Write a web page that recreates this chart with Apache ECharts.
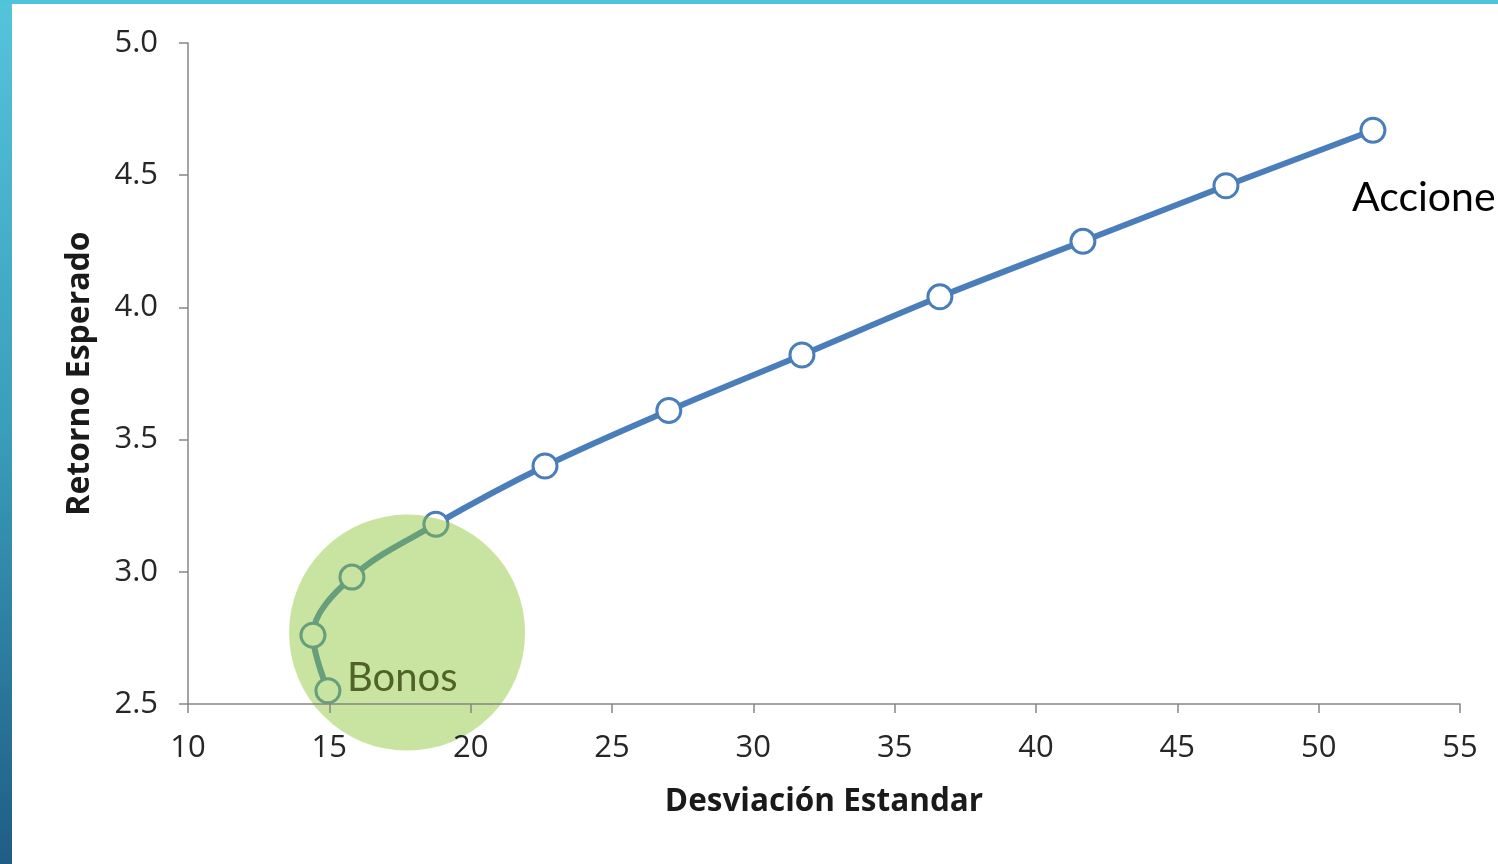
<!DOCTYPE html>
<html><head><meta charset="utf-8">
<script src="https://cdn.jsdelivr.net/npm/echarts@6/dist/echarts.min.js"></script>
<style>
html,body{margin:0;padding:0;background:#fff;width:1498px;height:864px;overflow:hidden;}
#chart{position:absolute;left:0;top:0;width:1498px;height:864px;}
#lb{position:absolute;left:0;top:0;width:12px;height:864px;background:linear-gradient(#55c4da,#3a9dbb 50%,#1f5d84);z-index:5;}
#tb{position:absolute;left:0;top:0;width:1498px;height:4px;background:#50c2d9;z-index:5;}
</style></head>
<body>
<div id="chart"></div><div id="lb"></div><div id="tb"></div>
<script>
const desviacion = [14.95, 14.42, 15.80, 18.77, 22.63, 27.01, 31.72, 36.60, 41.66, 46.72, 51.92];
const retorno    = [2.55, 2.76, 2.98, 3.18, 3.40, 3.61, 3.82, 4.04, 4.25, 4.46, 4.67];
const bonosCircle = [17.75, 2.77];
const xTitle = 'Desviación Estandar';
const yTitle = 'Retorno Esperado';
const labelBonos = 'Bonos';
const labelAcciones = 'Accione';

const chart = echarts.init(document.getElementById('chart'));
const pts = desviacion.map((x, i) => [x, retorno[i]]);
chart.setOption({
  animation: false,
  grid: {left: 188, right: 38, top: 43, bottom: 160},
  xAxis: {
    type: 'value', min: 10, max: 55, interval: 5, z: 5,
    name: xTitle, nameLocation: 'middle', nameGap: 82,
    nameTextStyle: {fontFamily: 'Open Sans', fontWeight: 'bold', fontSize: 31.5, color: '#1a1a1a'},
    axisLine: {lineStyle: {color: '#868686', width: 1.5}},
    axisTick: {show: true, length: 9, lineStyle: {color: '#868686', width: 1.5}},
    axisLabel: {fontFamily: 'Open Sans', fontSize: 31, color: '#262626', margin: 29},
    splitLine: {show: false}
  },
  yAxis: {
    type: 'value', min: 2.5, max: 5.0, interval: 0.5, z: 5,
    name: yTitle, nameLocation: 'middle', nameGap: 92, nameRotate: 90,
    nameTextStyle: {fontFamily: 'Open Sans', fontWeight: 'bold', fontSize: 32, color: '#1a1a1a'},
    axisLine: {show: true, lineStyle: {color: '#868686', width: 1.5}},
    axisTick: {show: true, length: 9, lineStyle: {color: '#868686', width: 1.5}},
    axisLabel: {fontFamily: 'Open Sans', fontSize: 31, color: '#262626', margin: 30,
      formatter: v => v.toFixed(1)},
    splitLine: {show: false}
  },
  series: [
    {
      type: 'line', data: pts, smooth: 0.35, z: 2,
      lineStyle: {color: '#4a7ebb', width: 6},
      symbol: 'circle', symbolSize: 24,
      itemStyle: {color: '#ffffff', borderColor: '#4a7ebb', borderWidth: 3}
    },
    {
      type: 'scatter', data: [bonosCircle], z: 4, clip: false, silent: true,
      symbol: 'circle', symbolSize: 236,
      itemStyle: {color: 'rgba(138,196,48,0.46)', opacity: 1}
    }
  ],
  graphic: [
    {type: 'text', left: 347, top: 658, z: 10,
     style: {text: labelBonos, fontFamily: 'Lato', fontSize: 40, fill: '#4f6228'}},
    {type: 'text', left: 1352, top: 177, z: 10,
     style: {text: labelAcciones, fontFamily: 'Lato', fontSize: 41, fill: '#000000'}}
  ]
});
</script>
</body></html>
